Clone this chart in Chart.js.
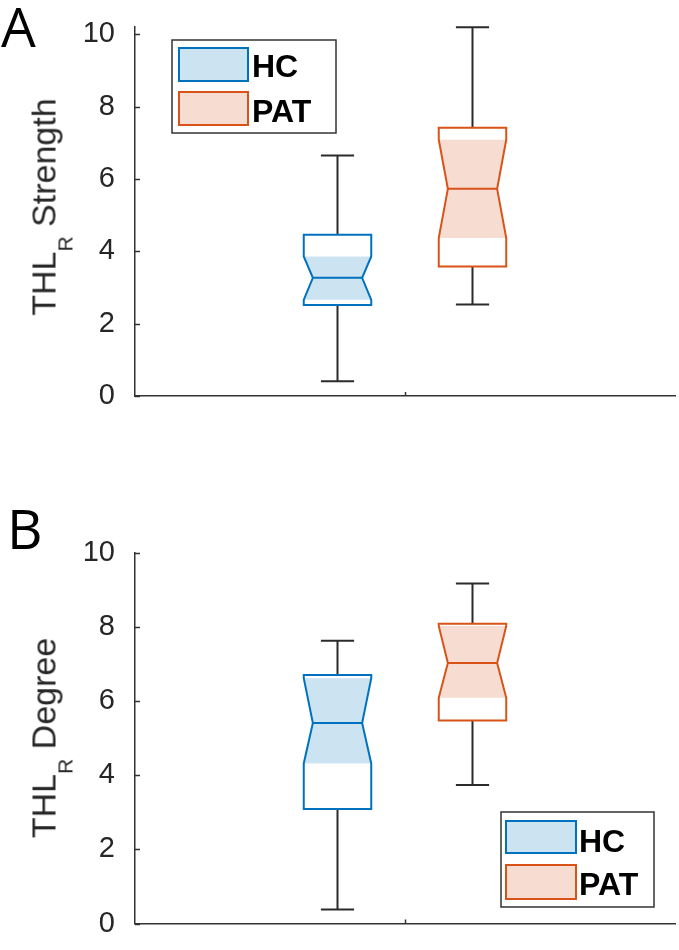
<!DOCTYPE html>
<html>
<head>
<meta charset="utf-8">
<script src="https://cdn.jsdelivr.net/npm/chart.js@4.4.0/dist/chart.umd.min.js"></script>
<style>
html,body{margin:0;padding:0;background:#fff;}
body{width:679px;height:950px;position:relative;overflow:hidden;font-family:"Liberation Sans",Arial,sans-serif;}
.panel{position:absolute;left:0;width:679px;height:475px;}
.panel canvas{position:absolute;left:0;top:0;}
.letter{position:absolute;font-family:"Open Sans","Liberation Sans",sans-serif;font-size:55px;line-height:1;color:#000;}
.ytitle{position:absolute;font-family:"Liberation Sans",Arial,sans-serif;font-size:34px;line-height:34px;color:#262626;white-space:nowrap;transform:translate(-50%,-50%) rotate(-90deg);}
.ytitle .sub{font-size:21px;position:relative;top:17px;}
</style>
</head>
<body>
<div class="panel" style="top:0">
  <canvas id="chartA" width="679" height="475"></canvas>
</div>
<div class="panel" style="top:475px">
  <canvas id="chartB" width="679" height="475"></canvas>
</div>
<div class="letter" style="left:1px;top:-2px">A</div>
<div class="letter" style="left:7px;top:500px">B</div>
<div class="ytitle" style="left:45.5px;top:207px">THL<span class="sub">R</span> Strength</div>
<div class="ytitle" style="left:45.5px;top:738px">THL<span class="sub">R</span> Degree</div>

<script>
// ---------- data ----------
const categories = ['HC', 'PAT'];
const positions = [1, 2];
const yTicks = [0, 2, 4, 6, 8, 10];

// Panel A: THL_R Strength
const strengthLowerWhisker = [0.41, 2.53];
const strengthQ1           = [2.52, 3.58];
const strengthNotchLow     = [2.66, 4.37];
const strengthMedian       = [3.27, 5.73];
const strengthNotchHigh    = [3.86, 7.09];
const strengthQ3           = [4.46, 7.42];
const strengthUpperWhisker = [6.65, 10.2];

// Panel B: THL_R Degree
const degreeLowerWhisker = [0.38, 3.74];
const degreeQ1           = [3.09, 5.48];
const degreeNotchLow     = [4.32, 6.09];
const degreeMedian       = [5.41, 7.03];
const degreeNotchHigh    = [6.62, 8.03];
const degreeQ3           = [6.71, 8.09];
const degreeUpperWhisker = [7.63, 9.18];

// ---------- styles ----------
const edgeColors = ['#0072BD', '#D95319'];
const fillColors = ['rgba(0,114,189,0.2)', 'rgba(217,83,25,0.2)'];
const axisColor = '#333333';
const whiskerColor = '#2b2b2b';

function buildBoxes(lo, q1, nLo, med, nHi, q3, hi) {
  return categories.map((c, i) => ({
    label: c, pos: positions[i],
    lo: lo[i], q1: q1[i], nLo: nLo[i], med: med[i], nHi: nHi[i], q3: q3[i], hi: hi[i],
    edge: edgeColors[i], fill: fillColors[i]
  }));
}

const notchBoxPlugin = {
  id: 'notchBox',
  afterDatasetsDraw(chart, args, opts) {
    const ctx = chart.ctx;
    const x = chart.scales.x, y = chart.scales.y;
    const Y = v => y.getPixelForValue(v);
    opts.boxes.forEach(b => {
      const cx = x.getPixelForValue(b.pos);
      const hw = x.getPixelForValue(b.pos + opts.boxHalf) - cx;
      const nw = hw * opts.notchRatio;
      const cw = x.getPixelForValue(b.pos + opts.capHalf) - cx;
      ctx.save();
      // whiskers
      ctx.strokeStyle = whiskerColor;
      ctx.lineWidth = 2;
      ctx.beginPath();
      ctx.moveTo(cx, Y(b.q3)); ctx.lineTo(cx, Y(b.hi));
      ctx.moveTo(cx - cw, Y(b.hi)); ctx.lineTo(cx + cw, Y(b.hi));
      ctx.moveTo(cx, Y(b.q1)); ctx.lineTo(cx, Y(b.lo));
      ctx.moveTo(cx - cw, Y(b.lo)); ctx.lineTo(cx + cw, Y(b.lo));
      ctx.stroke();
      // white box background
      ctx.fillStyle = '#fff';
      ctx.fillRect(cx - hw, Y(b.q3), 2 * hw, Y(b.q1) - Y(b.q3));
      // notch shading
      ctx.fillStyle = b.fill;
      ctx.beginPath();
      ctx.moveTo(cx - hw, Y(b.nLo));
      ctx.lineTo(cx - nw, Y(b.med));
      ctx.lineTo(cx - hw, Y(b.nHi));
      ctx.lineTo(cx + hw, Y(b.nHi));
      ctx.lineTo(cx + nw, Y(b.med));
      ctx.lineTo(cx + hw, Y(b.nLo));
      ctx.closePath();
      ctx.fill();
      // outline
      ctx.strokeStyle = b.edge;
      ctx.lineWidth = 2;
      ctx.lineJoin = 'miter';
      ctx.beginPath();
      ctx.moveTo(cx - hw, Y(b.q1));
      ctx.lineTo(cx - hw, Y(b.nLo));
      ctx.lineTo(cx - nw, Y(b.med));
      ctx.lineTo(cx - hw, Y(b.nHi));
      ctx.lineTo(cx - hw, Y(b.q3));
      ctx.lineTo(cx + hw, Y(b.q3));
      ctx.lineTo(cx + hw, Y(b.nHi));
      ctx.lineTo(cx + nw, Y(b.med));
      ctx.lineTo(cx + hw, Y(b.nLo));
      ctx.lineTo(cx + hw, Y(b.q1));
      ctx.closePath();
      ctx.stroke();
      ctx.beginPath();
      ctx.moveTo(cx - nw, Y(b.med)); ctx.lineTo(cx + nw, Y(b.med));
      ctx.stroke();
      ctx.restore();
    });
  },
  afterDraw(chart, args, opts) {
    const ctx = chart.ctx;
    const x = chart.scales.x, y = chart.scales.y;
    const area = chart.chartArea;
    ctx.save();
    ctx.strokeStyle = axisColor;
    ctx.lineWidth = 1.5;
    ctx.beginPath();
    y.ticks.forEach(t => {
      const py = Math.round(y.getPixelForValue(t.value)) + 0.5;
      ctx.moveTo(area.left, py); ctx.lineTo(area.left + 5, py);
    });
    x.ticks.forEach(t => {
      const px = Math.round(x.getPixelForValue(t.value)) + 0.5;
      ctx.moveTo(px, area.bottom); ctx.lineTo(px, area.bottom - 4);
    });
    ctx.stroke();
    // legend
    const L = opts.legend;
    ctx.fillStyle = '#fff';
    ctx.fillRect(L.x0, L.y0, L.x1 - L.x0, L.y1 - L.y0);
    ctx.strokeStyle = '#333';
    ctx.lineWidth = 1.5;
    ctx.strokeRect(L.x0, L.y0, L.x1 - L.x0, L.y1 - L.y0);
    categories.forEach((c, i) => {
      const r = L.rows[i];
      ctx.fillStyle = fillColors[i];
      ctx.fillRect(L.px0, r.y0, L.px1 - L.px0, r.y1 - r.y0);
      ctx.strokeStyle = edgeColors[i];
      ctx.lineWidth = 2;
      ctx.strokeRect(L.px0, r.y0, L.px1 - L.px0, r.y1 - r.y0);
      ctx.fillStyle = '#000';
      ctx.font = 'bold 32px "Liberation Sans", Arial, sans-serif';
      ctx.textBaseline = 'alphabetic';
      ctx.textAlign = 'left';
      ctx.fillText(c, L.tx, r.base);
    });
    ctx.restore();
  }
};

function makeChart(id, boxes, yMax, padTop, xHeight, legend) {
  return new Chart(document.getElementById(id), {
    type: 'scatter',
    data: {
      datasets: boxes.map(b => ({
        label: b.label,
        data: [{ x: b.pos, y: b.med }],
        pointRadius: 0,
        showLine: false
      }))
    },
    options: {
      responsive: false,
      animation: false,
      events: [],
      layout: { padding: { left: 0, right: 4, top: padTop, bottom: 0 } },
      plugins: {
        legend: { display: false },
        tooltip: { enabled: false },
        notchBox: { boxes: boxes, boxHalf: 0.25, notchRatio: 0.73, capHalf: 0.123, legend: legend }
      },
      scales: {
        x: {
          type: 'linear', min: -0.5, max: 3.5,
          grid: { display: false },
          border: { display: true, color: axisColor, width: 1.5 },
          ticks: { display: false },
          afterBuildTicks: s => { s.ticks = [{ value: 1.5 }]; },
          afterFit: s => { s.height = xHeight; }
        },
        y: {
          type: 'linear', min: 0, max: yMax,
          grid: { display: false },
          border: { display: true, color: axisColor, width: 1.5 },
          ticks: {
            color: '#262626', padding: 12,
            font: { family: '"Liberation Sans", Arial, sans-serif', size: 29, lineHeight: 1 }
          },
          afterBuildTicks: s => { s.ticks = yTicks.map(v => ({ value: v })); },
          afterFit: s => { s.width = 135; }
        }
      }
    },
    plugins: [notchBoxPlugin]
  });
}

makeChart('chartA',
  buildBoxes(strengthLowerWhisker, strengthQ1, strengthNotchLow, strengthMedian, strengthNotchHigh, strengthQ3, strengthUpperWhisker),
  10.22, 16, 79,
  { x0: 172, y0: 40, x1: 336, y1: 133, px0: 179, px1: 248, tx: 252,
    rows: [{ y0: 48, y1: 81, base: 77 }, { y0: 92, y1: 125, base: 122 }] });

makeChart('chartB',
  buildBoxes(degreeLowerWhisker, degreeQ1, degreeNotchLow, degreeMedian, degreeNotchHigh, degreeQ3, degreeUpperWhisker),
  10, 78, 17,
  { x0: 501, y0: 337, x1: 654, y1: 432, px0: 506, px1: 576, tx: 579,
    rows: [{ y0: 346, y1: 378, base: 377 }, { y0: 390, y1: 424, base: 420 }] });
</script>
</body>
</html>
